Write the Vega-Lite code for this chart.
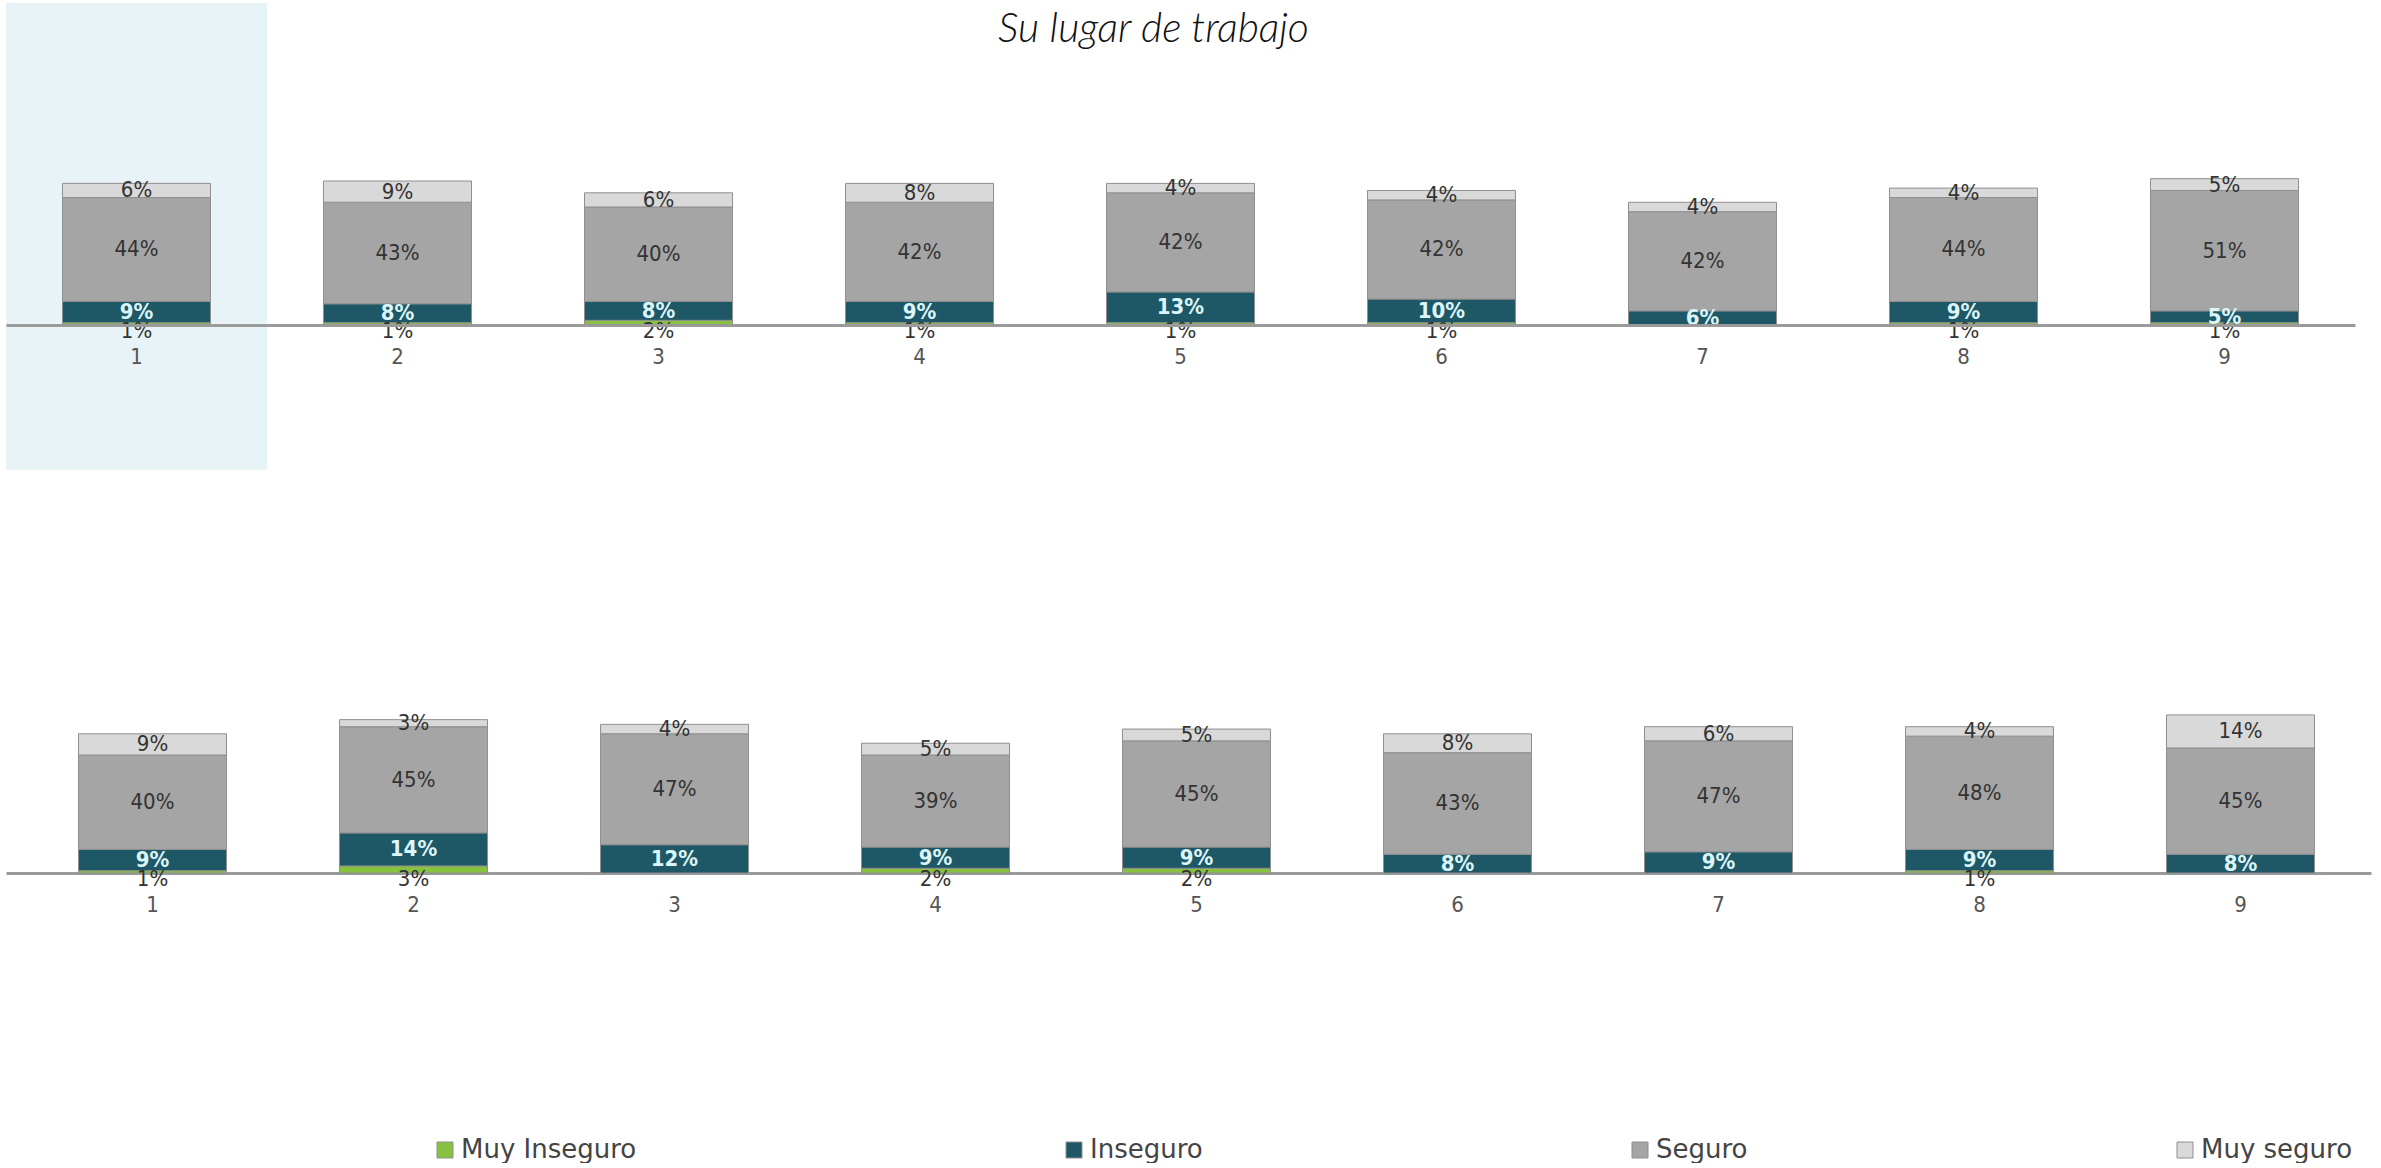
{
  "$schema": "https://vega.github.io/schema/vega-lite/v6.json",
  "background": "white",
  "padding": {"left": 6, "top": 3, "right": 4, "bottom": 0},
  "title": {"text": "Su lugar de trabajo", "font": "Lato", "fontStyle": "italic", "fontWeight": 300, "fontSize": 41, "color": "#111111", "anchor": "middle", "offset": -80, "baseline": "alphabetic", "dx": -35},
  "config": {"view": {"stroke": null}},
  "datasets": {
    "d": [
      {"p": 1, "cat": 1, "k": "Muy Inseguro", "o": 1, "v": 0.01},
      {"p": 1, "cat": 1, "k": "Inseguro", "o": 2, "v": 0.09},
      {"p": 1, "cat": 1, "k": "Seguro", "o": 3, "v": 0.44},
      {"p": 1, "cat": 1, "k": "Muy seguro", "o": 4, "v": 0.06},
      {"p": 1, "cat": 2, "k": "Muy Inseguro", "o": 1, "v": 0.01},
      {"p": 1, "cat": 2, "k": "Inseguro", "o": 2, "v": 0.08},
      {"p": 1, "cat": 2, "k": "Seguro", "o": 3, "v": 0.43},
      {"p": 1, "cat": 2, "k": "Muy seguro", "o": 4, "v": 0.09},
      {"p": 1, "cat": 3, "k": "Muy Inseguro", "o": 1, "v": 0.02},
      {"p": 1, "cat": 3, "k": "Inseguro", "o": 2, "v": 0.08},
      {"p": 1, "cat": 3, "k": "Seguro", "o": 3, "v": 0.40},
      {"p": 1, "cat": 3, "k": "Muy seguro", "o": 4, "v": 0.06},
      {"p": 1, "cat": 4, "k": "Muy Inseguro", "o": 1, "v": 0.01},
      {"p": 1, "cat": 4, "k": "Inseguro", "o": 2, "v": 0.09},
      {"p": 1, "cat": 4, "k": "Seguro", "o": 3, "v": 0.42},
      {"p": 1, "cat": 4, "k": "Muy seguro", "o": 4, "v": 0.08},
      {"p": 1, "cat": 5, "k": "Muy Inseguro", "o": 1, "v": 0.01},
      {"p": 1, "cat": 5, "k": "Inseguro", "o": 2, "v": 0.13},
      {"p": 1, "cat": 5, "k": "Seguro", "o": 3, "v": 0.42},
      {"p": 1, "cat": 5, "k": "Muy seguro", "o": 4, "v": 0.04},
      {"p": 1, "cat": 6, "k": "Muy Inseguro", "o": 1, "v": 0.01},
      {"p": 1, "cat": 6, "k": "Inseguro", "o": 2, "v": 0.10},
      {"p": 1, "cat": 6, "k": "Seguro", "o": 3, "v": 0.42},
      {"p": 1, "cat": 6, "k": "Muy seguro", "o": 4, "v": 0.04},
      {"p": 1, "cat": 7, "k": "Inseguro", "o": 2, "v": 0.06},
      {"p": 1, "cat": 7, "k": "Seguro", "o": 3, "v": 0.42},
      {"p": 1, "cat": 7, "k": "Muy seguro", "o": 4, "v": 0.04},
      {"p": 1, "cat": 8, "k": "Muy Inseguro", "o": 1, "v": 0.01},
      {"p": 1, "cat": 8, "k": "Inseguro", "o": 2, "v": 0.09},
      {"p": 1, "cat": 8, "k": "Seguro", "o": 3, "v": 0.44},
      {"p": 1, "cat": 8, "k": "Muy seguro", "o": 4, "v": 0.04},
      {"p": 1, "cat": 9, "k": "Muy Inseguro", "o": 1, "v": 0.01},
      {"p": 1, "cat": 9, "k": "Inseguro", "o": 2, "v": 0.05},
      {"p": 1, "cat": 9, "k": "Seguro", "o": 3, "v": 0.51},
      {"p": 1, "cat": 9, "k": "Muy seguro", "o": 4, "v": 0.05},
      {"p": 2, "cat": 1, "k": "Muy Inseguro", "o": 1, "v": 0.01},
      {"p": 2, "cat": 1, "k": "Inseguro", "o": 2, "v": 0.09},
      {"p": 2, "cat": 1, "k": "Seguro", "o": 3, "v": 0.40},
      {"p": 2, "cat": 1, "k": "Muy seguro", "o": 4, "v": 0.09},
      {"p": 2, "cat": 2, "k": "Muy Inseguro", "o": 1, "v": 0.03},
      {"p": 2, "cat": 2, "k": "Inseguro", "o": 2, "v": 0.14},
      {"p": 2, "cat": 2, "k": "Seguro", "o": 3, "v": 0.45},
      {"p": 2, "cat": 2, "k": "Muy seguro", "o": 4, "v": 0.03},
      {"p": 2, "cat": 3, "k": "Inseguro", "o": 2, "v": 0.12},
      {"p": 2, "cat": 3, "k": "Seguro", "o": 3, "v": 0.47},
      {"p": 2, "cat": 3, "k": "Muy seguro", "o": 4, "v": 0.04},
      {"p": 2, "cat": 4, "k": "Muy Inseguro", "o": 1, "v": 0.02},
      {"p": 2, "cat": 4, "k": "Inseguro", "o": 2, "v": 0.09},
      {"p": 2, "cat": 4, "k": "Seguro", "o": 3, "v": 0.39},
      {"p": 2, "cat": 4, "k": "Muy seguro", "o": 4, "v": 0.05},
      {"p": 2, "cat": 5, "k": "Muy Inseguro", "o": 1, "v": 0.02},
      {"p": 2, "cat": 5, "k": "Inseguro", "o": 2, "v": 0.09},
      {"p": 2, "cat": 5, "k": "Seguro", "o": 3, "v": 0.45},
      {"p": 2, "cat": 5, "k": "Muy seguro", "o": 4, "v": 0.05},
      {"p": 2, "cat": 6, "k": "Inseguro", "o": 2, "v": 0.08},
      {"p": 2, "cat": 6, "k": "Seguro", "o": 3, "v": 0.43},
      {"p": 2, "cat": 6, "k": "Muy seguro", "o": 4, "v": 0.08},
      {"p": 2, "cat": 7, "k": "Inseguro", "o": 2, "v": 0.09},
      {"p": 2, "cat": 7, "k": "Seguro", "o": 3, "v": 0.47},
      {"p": 2, "cat": 7, "k": "Muy seguro", "o": 4, "v": 0.06},
      {"p": 2, "cat": 8, "k": "Muy Inseguro", "o": 1, "v": 0.01},
      {"p": 2, "cat": 8, "k": "Inseguro", "o": 2, "v": 0.09},
      {"p": 2, "cat": 8, "k": "Seguro", "o": 3, "v": 0.48},
      {"p": 2, "cat": 8, "k": "Muy seguro", "o": 4, "v": 0.04},
      {"p": 2, "cat": 9, "k": "Inseguro", "o": 2, "v": 0.08},
      {"p": 2, "cat": 9, "k": "Seguro", "o": 3, "v": 0.45},
      {"p": 2, "cat": 9, "k": "Muy seguro", "o": 4, "v": 0.14}
    ]
  },
  "resolve": {"scale": {"x": "independent", "y": "independent", "color": "shared"}},
  "spacing": 20,
  "vconcat": [
    {
      "width": 2349,
      "height": 467,
      "layer": [
        {
          "data": {"values": [{"cat": 1}]},
          "mark": {"type": "rect", "color": "#e7f3f6"},
          "encoding": {
            "x": {"field": "cat", "type": "ordinal", "scale": {"domain": [1,2,3,4,5,6,7,8,9], "paddingInner": 0, "paddingOuter": 0},
                  "axis": {"title": null, "offset": -145, "domainColor": "#9a9a9a", "domainWidth": 3, "ticks": false, "tickSize": 0, "labelAngle": 0, "labelFont": "DejaVu Sans Condensed", "labelFontSize": 22, "labelColor": "#555555", "labelPadding": 31, "labelBaseline": "middle"}}
          }
        },
        {
          "data": {"name": "d"},
          "transform": [{"filter": "datum.p == 1"}, {"stack": "v", "groupby": ["cat"], "sort": [{"field": "o"}], "as": ["y0", "y1"]}],
          "mark": {"type": "bar", "width": 148, "stroke": "#8f8f8f", "strokeWidth": 1},
          "encoding": {
            "x": {"field": "cat", "type": "ordinal"},
            "y": {"field": "y0", "type": "quantitative", "scale": {"domain": [-0.614, 1.364], "nice": false, "zero": false}, "axis": null},
            "y2": {"field": "y1"},
            "color": {"field": "k", "type": "nominal",
                      "scale": {"domain": ["Muy Inseguro", "Inseguro", "Seguro", "Muy seguro"], "range": ["#86c140", "#1e5765", "#a5a5a5", "#d9d9d9"]},
                      "legend": {"title": null, "orient": "none", "legendX": 426, "legendY": 1134, "direction": "horizontal", "columns": 4, "columnPadding": 424, "symbolType": "square", "symbolSize": 256, "symbolStrokeColor": "#999999", "symbolStrokeWidth": 1, "labelFont": "DejaVu Sans", "labelFontSize": 26, "labelLimit": 400, "labelColor": "#444444", "labelOffset": 3}}
          }
        },
        {
          "data": {"name": "d"},
          "transform": [{"filter": "datum.p == 1"}, {"stack": "v", "groupby": ["cat"], "sort": [{"field": "o"}], "as": ["y0", "y1"]}, {"calculate": "(datum.y0 + datum.y1) / 2", "as": "ym"}, {"filter": "datum.o >= 3"}],
          "mark": {"type": "text", "font": "DejaVu Sans Condensed", "fontSize": 22, "color": "#333333", "baseline": "middle"},
          "encoding": {
            "x": {"field": "cat", "type": "ordinal"},
            "y": {"field": "ym", "type": "quantitative"},
            "text": {"field": "v", "type": "quantitative", "format": ".0%"}
          }
        },
        {
          "data": {"name": "d"},
          "transform": [{"filter": "datum.p == 1"}, {"stack": "v", "groupby": ["cat"], "sort": [{"field": "o"}], "as": ["y0", "y1"]}, {"filter": "datum.o == 1"}],
          "mark": {"type": "text", "font": "DejaVu Sans Condensed", "fontSize": 22, "color": "#333333", "baseline": "middle", "dy": 6},
          "encoding": {
            "x": {"field": "cat", "type": "ordinal"},
            "y": {"field": "y0", "type": "quantitative"},
            "text": {"field": "v", "type": "quantitative", "format": ".0%"}
          }
        },
        {
          "data": {"name": "d"},
          "transform": [{"filter": "datum.p == 1"}, {"stack": "v", "groupby": ["cat"], "sort": [{"field": "o"}], "as": ["y0", "y1"]}, {"calculate": "(datum.y0 + datum.y1) / 2", "as": "ym"}, {"filter": "datum.o == 2"}],
          "mark": {"type": "text", "font": "DejaVu Sans Condensed", "fontSize": 22, "fontWeight": "bold", "color": "#dcf5fa", "baseline": "middle"},
          "encoding": {
            "x": {"field": "cat", "type": "ordinal"},
            "y": {"field": "ym", "type": "quantitative"},
            "text": {"field": "v", "type": "quantitative", "format": ".0%"}
          }
        }
      ]
    },
    {
      "width": 2365,
      "height": 510,
      "layer": [
        {
          "data": {"name": "d"},
          "transform": [{"filter": "datum.p == 2"}, {"stack": "v", "groupby": ["cat"], "sort": [{"field": "o"}], "as": ["y0", "y1"]}],
          "mark": {"type": "bar", "width": 148, "stroke": "#8f8f8f", "strokeWidth": 1},
          "encoding": {
            "x": {"field": "cat", "type": "ordinal", "scale": {"domain": [1,2,3,4,5,6,7,8,9], "paddingInner": 0, "paddingOuter": 0.0307, "align": 1},
                  "axis": {"title": null, "offset": -127, "domainColor": "#9a9a9a", "domainWidth": 3, "ticks": false, "tickSize": 0, "labelAngle": 0, "labelFont": "DejaVu Sans Condensed", "labelFontSize": 22, "labelColor": "#555555", "labelPadding": 31, "labelBaseline": "middle"}},
            "y": {"field": "y0", "type": "quantitative", "scale": {"domain": [-0.538, 1.623], "nice": false, "zero": false}, "axis": null},
            "y2": {"field": "y1"},
            "color": {"field": "k", "type": "nominal"}
          }
        },
        {
          "data": {"name": "d"},
          "transform": [{"filter": "datum.p == 2"}, {"stack": "v", "groupby": ["cat"], "sort": [{"field": "o"}], "as": ["y0", "y1"]}, {"calculate": "(datum.y0 + datum.y1) / 2", "as": "ym"}, {"filter": "datum.o >= 3"}],
          "mark": {"type": "text", "font": "DejaVu Sans Condensed", "fontSize": 22, "color": "#333333", "baseline": "middle"},
          "encoding": {
            "x": {"field": "cat", "type": "ordinal"},
            "y": {"field": "ym", "type": "quantitative"},
            "text": {"field": "v", "type": "quantitative", "format": ".0%"}
          }
        },
        {
          "data": {"name": "d"},
          "transform": [{"filter": "datum.p == 2"}, {"stack": "v", "groupby": ["cat"], "sort": [{"field": "o"}], "as": ["y0", "y1"]}, {"filter": "datum.o == 1"}],
          "mark": {"type": "text", "font": "DejaVu Sans Condensed", "fontSize": 22, "color": "#333333", "baseline": "middle", "dy": 6},
          "encoding": {
            "x": {"field": "cat", "type": "ordinal"},
            "y": {"field": "y0", "type": "quantitative"},
            "text": {"field": "v", "type": "quantitative", "format": ".0%"}
          }
        },
        {
          "data": {"name": "d"},
          "transform": [{"filter": "datum.p == 2"}, {"stack": "v", "groupby": ["cat"], "sort": [{"field": "o"}], "as": ["y0", "y1"]}, {"calculate": "(datum.y0 + datum.y1) / 2", "as": "ym"}, {"filter": "datum.o == 2"}],
          "mark": {"type": "text", "font": "DejaVu Sans Condensed", "fontSize": 22, "fontWeight": "bold", "color": "#dcf5fa", "baseline": "middle"},
          "encoding": {
            "x": {"field": "cat", "type": "ordinal"},
            "y": {"field": "ym", "type": "quantitative"},
            "text": {"field": "v", "type": "quantitative", "format": ".0%"}
          }
        }
      ]
    }
  ]
}
